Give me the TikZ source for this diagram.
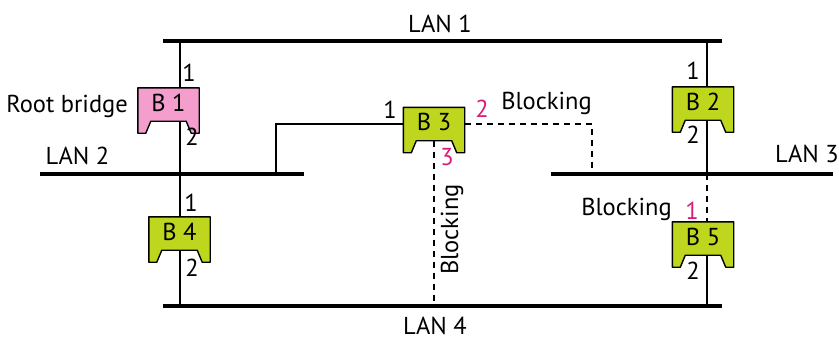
\documentclass[tikz,border=0pt]{standalone}
\usepackage{fontspec}
\setmainfont{PT Sans}
\usetikzlibrary{calc}
\pgfdeclarelayer{back}
\pgfsetlayers{back,main}
\definecolor{rootpink}{RGB}{243,158,205}
\definecolor{bridgegreen}{RGB}{190,214,30}
\definecolor{portred}{RGB}{214,30,120}
\begin{document}
\begin{tikzpicture}[x=1pt,y=-1pt,
  font=\fontsize{24.5}{28}\selectfont,
  lan/.style={line width=4pt},
  link/.style={line width=2.4pt},
  blocked/.style={line width=2.4pt, dash pattern=on 6pt off 5pt},
  bridge/.style={minimum width=61pt, inner sep=0pt, text height=23pt, text depth=22pt},
  shell/.style={draw=black, line width=1.4pt, line join=round},
  lbl/.style={inner sep=0pt},
  hot/.style={lbl, text=portred}]
\useasboundingbox (0,0) rectangle (839,341);

% LAN segments
\coordinate (lan1w) at (163,41);  \coordinate (lan1e) at (722,41);
\coordinate (lan2w) at (40,174);  \coordinate (lan2e) at (304,174);
\coordinate (lan3w) at (551,174); \coordinate (lan3e) at (833,174);
\coordinate (lan4w) at (163,306); \coordinate (lan4e) at (722,306);
\coordinate (lan2tap) at (276,174);
\coordinate (lan3tap) at (592,174);
% trunk lines through the bridges
\coordinate (tl) at (180,0);
\coordinate (tr) at (707,0);

% bridges
\node[bridge] (b1) at (168.5,110.5) {B 1};
\node[bridge] (b2) at (703,109.5) {B 2};
\node[bridge] (b3) at (434,130) {B 3};
\node[bridge] (b4) at (179.5,239.5) {B 4};
\node[bridge] (b5) at (703,244.5) {B 5};

% port attachment points (top of the notch)
\coordinate (b1p) at ($(b1.south -| tl)+(0,-12)$);
\coordinate (b2p) at ($(b2.south -| tr)+(0,-12)$);
\coordinate (b3p) at ($(b3.south)+(0,-12)$);
\coordinate (b4p) at ($(b4.south -| tl)+(0,-12)$);
\coordinate (b5p) at ($(b5.south -| tr)+(0,-12)$);
\coordinate (b3a) at ($(b3.west)+(0,-6)$);
\coordinate (b3b) at ($(b3.east)+(0,-6)$);

% LAN labels
\node[lbl] (l1) at (440,23.5) {LAN 1};
\node[lbl] (l2) at (77.5,156) {LAN 2};
\node[lbl, anchor=west] (l3) at (775,154) {LAN 3};
\node[lbl] (l4) at (435,326) {LAN 4};
\node[lbl, anchor=base east] (root) at (128,112) {Root bridge};

% port numbers
\node[lbl] (p11) at (189,73) {1};
\node[lbl] (p12) at (192,137) {2};
\node[lbl] (p21) at (693,70.5) {1};
\node[lbl] (p22) at (693,135) {2};
\node[lbl] (p31) at (390,110) {1};
\node[hot] (p32) at (482,109) {2};
\node[hot] (p33) at (447,157) {3};
\node[lbl] (p41) at (191,203) {1};
\node[lbl] (p42) at (192,268) {2};
\node[hot] (p51) at (692,211) {1};
\node[lbl] (p52) at (693,271) {2};

% blocked ports
\node[lbl, anchor=base] (blk2) at (546.5,109) {Blocking};
\node[lbl, anchor=base] (blk5) at (626.5,215) {Blocking};
\node[lbl, rotate=90] (blk3) at (452,229.5) {Blocking};

\begin{pgfonlayer}{back}
  \draw[lan] (lan1w) -- (lan1e);
  \draw[lan] (lan2w) -- (lan2e);
  \draw[lan] (lan3w) -- (lan3e);
  \draw[lan] (lan4w) -- (lan4e);
  % forwarding links
  \draw[link] (lan1w -| tl) -- (b1.north -| tl);
  \draw[link] (b1p) -- (lan2w -| tl);
  \draw[link] (lan2w -| tl) -- (b4.north -| tl);
  \draw[link] (b4p) -- (lan4w -| tl);
  \draw[link] (lan1e -| tr) -- (b2.north -| tr);
  \draw[link] (b2p) -- (lan3e -| tr);
  \draw[link] (b5p) -- (lan4e -| tr);
  \draw[link] (b3a) -| (lan2tap);
  % blocked links
  \draw[blocked] (b3b) -| (lan3tap);
  \draw[blocked] (b3p) -- (lan4w -| b3p);
  \draw[blocked] (lan3e -| tr) -- (b5.north -| tr);
  % bridge bodies
  \foreach \b/\c in {b1/rootpink,b2/bridgegreen,b3/bridgegreen,b4/bridgegreen,b5/bridgegreen}
    \draw[shell, fill=\c] (\b.north west) -- (\b.north east) -- (\b.south east)
      -- ++(-8,0) -- ++(-5,-12) -- ($(\b.south west)+(13,-12)$) -- ++(-5,12)
      -- (\b.south west) -- cycle;
\end{pgfonlayer}
\end{tikzpicture}
\end{document}
